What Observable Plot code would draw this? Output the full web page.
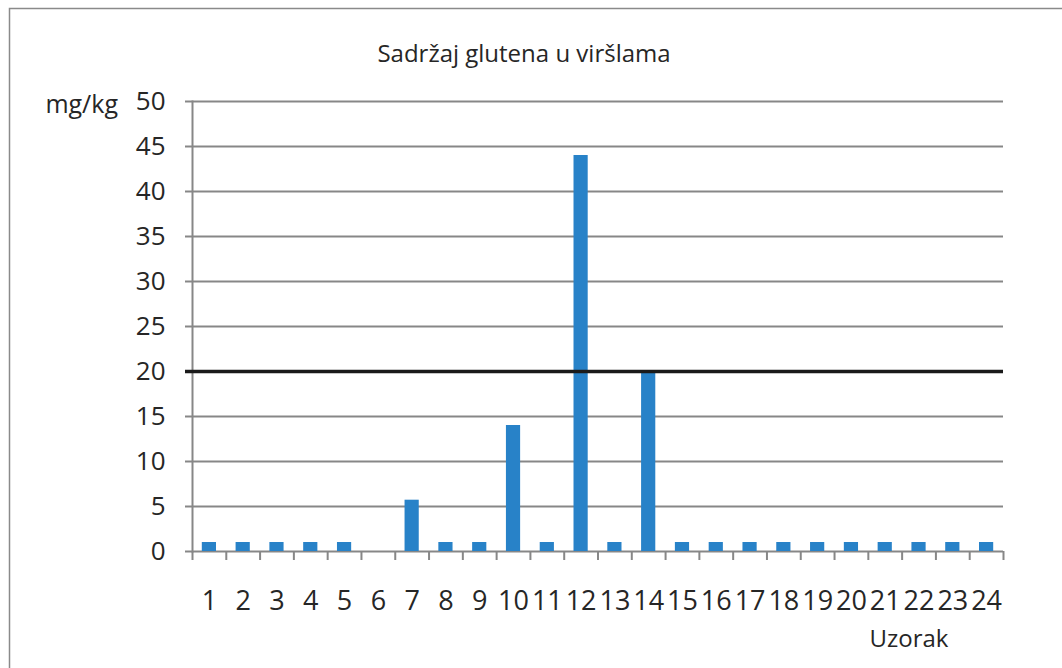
<!DOCTYPE html>
<html>
<head>
<meta charset="utf-8">
<script src="https://cdn.jsdelivr.net/npm/d3@7"></script>
<script src="https://cdn.jsdelivr.net/npm/@observablehq/plot@0.6"></script>
<style>
  html, body { margin: 0; padding: 0; background: #fff; }
  svg text { font-family: "Open Sans", sans-serif; }
</style>
</head>
<body>
<div id="chart"></div>
<script>
const title = "Sadržaj glutena u viršlama";
const yLabel = "mg/kg";
const xLabel = "Uzorak";
const samples = ["1","2","3","4","5","6","7","8","9","10","11","12","13","14","15","16","17","18","19","20","21","22","23","24"];
const gluten = [1,1,1,1,1,0,5.7,1,1,14,1,44,1,20,1,1,1,1,1,1,1,1,1,1];
const limit = 20;
const yTicks = [0,5,10,15,20,25,30,35,40,45,50];

const data = samples.map((s, i) => ({sample: s, value: gluten[i]}));

const W = 1062, H = 668;
const mL = 192, mR = 59, mT = 101, mB = 117;
const step = (W - mL - mR) / samples.length;
const grey = "#878787";
const ink = "#262626";

const plot = Plot.plot({
  width: W, height: H,
  marginLeft: mL, marginRight: mR, marginTop: mT, marginBottom: mB,
  style: {fontFamily: "Open Sans", fontSize: "26px", color: ink, background: "white"},
  x: {domain: samples, paddingInner: 0.58, paddingOuter: 0.29, round: false, label: null},
  y: {domain: [0, 50], label: null},
  marks: [
    Plot.gridY(yTicks, {stroke: grey, strokeOpacity: 1, strokeWidth: 2}),
    Plot.frame({anchor: "left", stroke: grey, strokeWidth: 2}),
    Plot.axisY(yTicks, {tickSize: 7, tickPadding: 20, stroke: grey, strokeWidth: 2, fill: ink, tickFormat: d => String(d)}),
    Plot.ruleX(samples, {x: d => d, y1: 0, y2: -1, dx: -step / 2, stroke: grey, strokeWidth: 2}),
    Plot.ruleX(samples.slice(-1), {x: d => d, y1: 0, y2: -1, dx: step / 2, stroke: grey, strokeWidth: 2}),
    Plot.barY(data, {x: "sample", y: "value", fill: "#2882c8"}),
    Plot.axisX({tickSize: 0, tickPadding: 39, fontSize: 27, fill: ink}),
    Plot.ruleY([limit], {stroke: "#1a1a1a", strokeWidth: 3.5, insetLeft: -7})
  ]
});

const svg = d3.select(plot);
svg.insert("rect", ":first-child")
  .attr("x", 9.5).attr("y", 8.5).attr("width", W + 20).attr("height", H + 20)
  .attr("fill", "white").attr("stroke", "#8a8a8a").attr("stroke-width", 1.5);
svg.append("text").attr("x", 524).attr("y", 62).attr("text-anchor", "middle")
  .attr("font-size", 24).attr("fill", ink).text(title);
svg.append("text").attr("x", 118).attr("y", 113).attr("text-anchor", "end")
  .attr("font-size", 25).attr("fill", ink).text(yLabel);
svg.append("text").attr("x", 909).attr("y", 647).attr("text-anchor", "middle")
  .attr("font-size", 24).attr("fill", ink).text(xLabel);

document.getElementById("chart").appendChild(plot);
</script>
</body>
</html>
